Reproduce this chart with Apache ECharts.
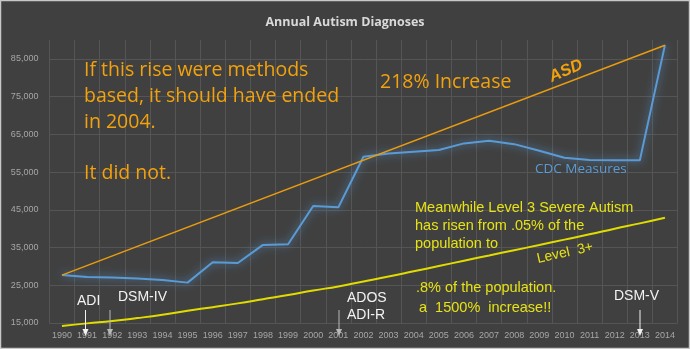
<!DOCTYPE html>
<html><head><meta charset="utf-8">
<script src="https://cdn.jsdelivr.net/npm/echarts@6/dist/echarts.min.js"></script>
<style>html,body{margin:0;padding:0;background:#404040}#c{width:690px;height:349px}</style>
</head><body><div id="c"></div>
<script>
const years = ['1990','1991','1992','1993','1994','1995','1996','1997','1998','1999','2000','2001','2002','2003','2004','2005','2006','2007','2008','2009','2010','2011','2012','2013','2014'];
const cdcMeasures = [27700,27200,27050,26800,26400,25700,31100,30900,35700,35850,46000,45650,59050,59900,60400,60850,62600,63300,62400,60650,58800,58200,58100,58100,88650];
const asdTrend = [27700,null,null,null,null,null,null,null,null,null,null,null,null,null,null,null,null,null,null,null,null,null,null,null,88600];
const level3 = [14200,14900,15500,16300,17200,18260,19200,20200,21300,22400,23600,24700,26000,27300,28700,30100,31500,32900,34300,35660,37100,38500,40000,41400,42900];
const yMin = 15000, yMax = 90000, yStep = 10000;

const chart = echarts.init(document.getElementById('c'), null, {renderer:'canvas'});
const ORANGE_TXT = '#f2a20c', YEL = '#e6e214', WHITE = '#f2f2f2', GREY_ARROW = '#b8b8b8';
const F = 'Open Sans, Noto Sans, sans-serif';
const A = 'Liberation Sans, Arial, sans-serif';

function txt(text, x, y, color, size, opt) {
  opt = opt || {};
  return {type:'text', x:x, y:y, rotation: opt.rot || 0, z: 100,
    style:{text:text, fill:color, font:(opt.style||'normal')+' '+(opt.weight||'normal')+' '+size+'px '+(opt.family||F),
      align: opt.align || 'left', verticalAlign:'middle'}};
}
function arrow(x, color) {
  return [
    {type:'line', z:100, shape:{x1:x, y1:310, x2:x, y2:331}, style:{stroke:color, lineWidth:1}},
    {type:'polygon', z:100, shape:{points:[[x-3,329],[x+3,329],[x,336]]}, style:{fill:color}}
  ];
}

const graphic = [
  {type:'rect', z:-1, shape:{x:0.5, y:0.5, width:689, height:348}, style:{fill:'none', stroke:'#c8c8c8', lineWidth:1.5}},
  txt('If this rise were methods', 84, 70, ORANGE_TXT, 19.5),
  txt('based, it should have ended', 84, 96, ORANGE_TXT, 19.5),
  txt('in 2004.', 84, 122, ORANGE_TXT, 19.5),
  txt('It did not.', 84, 173, ORANGE_TXT, 19.5),
  txt('218% Increase', 380, 82, ORANGE_TXT, 19.5),
  txt('ASD', 566, 71, ORANGE_TXT, 16.5, {weight:'bold', style:'italic', align:'center', rot: 0.4, family:A}),
  txt('CDC Measures', 535, 169, '#5b9bd5', 13.5),
  txt('Meanwhile Level 3 Severe Autism', 415, 208, YEL, 14.5, {family:A}),
  txt('has risen from .05% of the', 415, 226, YEL, 14.5, {family:A}),
  txt('population to', 415, 243.5, YEL, 14.5, {family:A}),
  txt('Level  3+', 565, 253, YEL, 14, {family:A, align:'center', rot: 0.22}),
  txt('.8% of the population.', 416, 288, YEL, 14.5, {family:A}),
  txt('a  1500%  increase!!', 419, 308, YEL, 14.5, {family:A}),
  txt('ADI', 77, 301, WHITE, 14, {family:A}),
  txt('DSM-IV', 118, 297, WHITE, 14, {family:A}),
  txt('ADOS', 347, 298, WHITE, 14, {family:A}),
  txt('ADI-R', 347, 315, WHITE, 14, {family:A}),
  txt('DSM-V', 614, 296, WHITE, 14, {family:A})
].concat(arrow(85.5, WHITE), arrow(110, GREY_ARROW), arrow(339, GREY_ARROW), arrow(640, WHITE));

chart.setOption({
  backgroundColor:'#404040',
  animation:false,
  title:{text:'Annual Autism Diagnoses', left:'center', top:11,
    textStyle:{color:'#d9d9d9', fontSize:12.5, fontWeight:'bold', fontFamily:F}},
  grid:{left:49.4, right:12.5, top:40, bottom:26, containLabel:false},
  xAxis:{type:'category', data:years, boundaryGap:true,
    axisLine:{show:false}, axisTick:{show:false},
    axisLabel:{interval:0, color:'#a6a6a6', fontSize:9, fontFamily:A, margin:8},
    splitLine:{show:true, interval:0, lineStyle:{color:'#555555', width:1}}},
  yAxis:{type:'value', min:yMin, max:yMax, interval:yStep,
    axisLine:{show:false}, axisTick:{show:false},
    axisLabel:{color:'#a6a6a6', fontSize:9, fontFamily:A, margin:11, showMaxLabel:false,
      formatter:v => v.toLocaleString('en-US')},
    splitLine:{show:true, showMaxLine:false, lineStyle:{color:'#555555', width:1}}},
  series:[
    {name:'Level 3+', type:'line', data:level3, smooth:true, symbol:'none', clip:false,
      lineStyle:{color:'#e0dc00', width:2}},
    {name:'CDC Measures', type:'line', data:cdcMeasures, symbol:'none',
      lineStyle:{color:'#5b9bd5', width:2, shadowBlur:9, shadowColor:'rgba(91,155,213,0.95)'}},
    {name:'ASD', type:'line', data:asdTrend, connectNulls:true, symbol:'none',
      lineStyle:{color:'#e99c0e', width:1.5}}
  ],
  graphic: graphic
});
</script></body></html>
